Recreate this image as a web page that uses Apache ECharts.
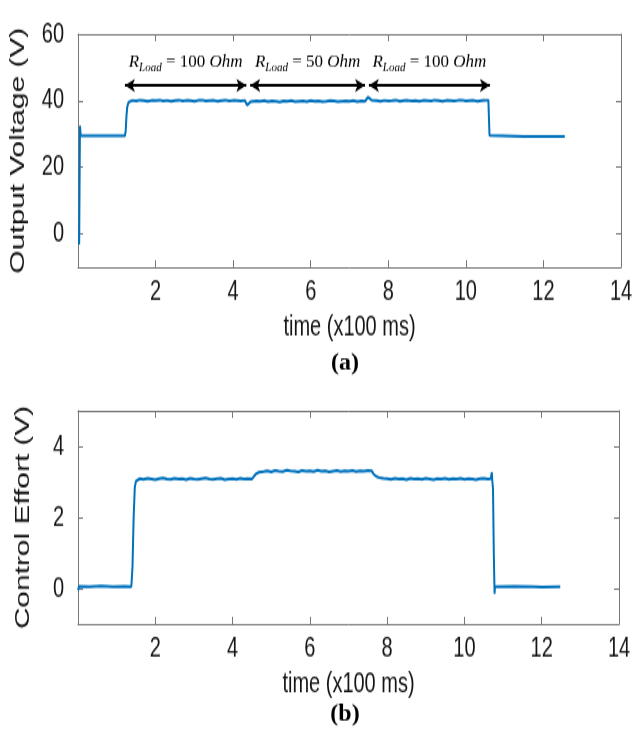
<!DOCTYPE html>
<html>
<head>
<meta charset="utf-8">
<script src="https://cdn.jsdelivr.net/npm/echarts@6/dist/echarts.min.js"></script>
<style>
  html, body { margin: 0; padding: 0; background: #fff; overflow: hidden; }
  #wrap { width: 632px; height: 732px; overflow: hidden; }
  /* the figure is laid out at a shorter height and stretched vertically */
  #chart { width: 632px; height: 515px; transform: scaleY(1.42136); transform-origin: 0 0; }
</style>
</head>
<body>
<div id="wrap"><div id="chart"></div></div>
<script>
// ---- (a) output voltage, time in units of 100 ms ----
const timeV = [
  0.03, 0.05, 0.07, 0.60, 1.21, 1.23, 1.25, 1.27, 1.30, 1.34,
  1.4, 1.5, 1.6, 1.7, 1.8, 1.9, 2.0, 2.1, 2.2, 2.3, 2.4, 2.5, 2.6, 2.7, 2.8,
  2.9, 3.0, 3.1, 3.2, 3.3, 3.4, 3.5, 3.6, 3.7, 3.8, 3.9, 4.0, 4.1, 4.2, 4.3,
  4.36, 4.40, 4.45,
  4.5, 4.6, 4.7, 4.8, 4.9, 5.0, 5.1, 5.2, 5.3, 5.4, 5.5, 5.6, 5.7, 5.8, 5.9,
  6.0, 6.1, 6.2, 6.3, 6.4, 6.5, 6.6, 6.7, 6.8, 6.9, 7.0, 7.1, 7.2, 7.3, 7.4,
  7.44, 7.48, 7.53, 7.58,
  7.7, 7.8, 7.9, 8.0, 8.1, 8.2, 8.3, 8.4, 8.5, 8.6, 8.7, 8.8, 8.9, 9.0, 9.1,
  9.2, 9.3, 9.4, 9.5, 9.6, 9.7, 9.8, 9.9, 10.0, 10.1, 10.2, 10.3, 10.4, 10.5,
  10.58, 10.60, 10.61, 10.63, 11.5, 12.55
];
const voltV = [
  -3.2, 32.5, 29.5, 29.5, 29.5, 31.0, 35.5, 38.2, 39.5, 40.1,
  40.1, 39.9, 40.2, 40.0, 39.8, 40.1, 40.0, 40.2, 39.9, 40.1, 39.8, 40.0, 40.2, 39.9, 40.1,
  40.0, 39.8, 40.1, 40.2, 39.9, 40.0, 40.1, 39.8, 40.0, 40.2, 39.9, 40.1, 40.0, 39.9, 40.1,
  38.7, 39.4, 39.7,
  39.7, 39.9, 39.8, 40.0, 39.7, 39.9, 39.8, 39.6, 39.9, 39.8, 40.0, 39.7, 39.8, 39.9, 39.7,
  40.0, 39.8, 39.9, 39.7, 39.8, 40.0, 39.9, 39.7, 39.8, 39.9, 39.8, 40.0, 39.7, 39.9, 39.8,
  40.0, 41.1, 40.4, 40.1,
  40.0, 39.8, 40.1, 39.9, 40.0, 40.2, 39.8, 40.0, 40.1, 39.9, 40.0, 39.8, 40.1, 40.0, 39.9,
  40.2, 40.0, 39.8, 40.1, 40.0, 39.9, 40.1, 40.2, 39.9, 40.0, 40.1, 39.8, 40.0, 40.1,
  40.2, 40.3, 29.6, 29.3, 29.3, 29.3
];

// ---- (b) control effort ----
const timeE = [
  0.00, 0.03, 0.30, 0.60, 0.90, 1.20, 1.38, 1.41, 1.44, 1.47, 1.50, 1.55,
  1.6, 1.7, 1.8, 1.9, 2.0, 2.1, 2.2, 2.3, 2.4, 2.5, 2.6, 2.7, 2.8, 2.9, 3.0,
  3.1, 3.2, 3.3, 3.4, 3.5, 3.6, 3.7, 3.8, 3.9, 4.0, 4.1, 4.2, 4.3, 4.4, 4.5,
  4.55, 4.60, 4.68,
  4.8, 4.9, 5.0, 5.1, 5.2, 5.3, 5.4, 5.5, 5.6, 5.7, 5.8, 5.9, 6.0, 6.1, 6.2,
  6.3, 6.4, 6.5, 6.6, 6.7, 6.8, 6.9, 7.0, 7.1, 7.2, 7.3, 7.4, 7.5, 7.6,
  7.65, 7.72, 7.80, 7.90,
  8.0, 8.1, 8.2, 8.3, 8.4, 8.5, 8.6, 8.7, 8.8, 8.9, 9.0, 9.1, 9.2, 9.3,
  9.4, 9.5, 9.6, 9.7, 9.8, 9.9, 10.0, 10.1, 10.2, 10.3, 10.4, 10.5, 10.6,
  10.68, 10.71, 10.72, 10.74, 10.76, 10.78, 10.79, 11.3, 11.8, 12.0, 12.48
];
const effortE = [
  -0.05, 0.06, 0.05, 0.07, 0.05, 0.06, 0.05, 0.6, 2.0, 2.85, 3.02, 3.08,
  3.09, 3.07, 3.10, 3.08, 3.06, 3.09, 3.11, 3.08, 3.07, 3.10, 3.08, 3.09, 3.06, 3.10, 3.08,
  3.07, 3.09, 3.11, 3.08, 3.07, 3.09, 3.10, 3.06, 3.08, 3.09, 3.07, 3.10, 3.08, 3.09, 3.08,
  3.12, 3.22, 3.27,
  3.29, 3.31, 3.28, 3.32, 3.30, 3.29, 3.33, 3.31, 3.30, 3.28, 3.32, 3.30, 3.31, 3.29, 3.33,
  3.30, 3.31, 3.28, 3.30, 3.32, 3.29, 3.31, 3.30, 3.32, 3.29, 3.31, 3.30, 3.32, 3.31,
  3.22, 3.15, 3.12, 3.10,
  3.09, 3.07, 3.10, 3.08, 3.09, 3.06, 3.10, 3.08, 3.09, 3.07, 3.10, 3.08, 3.06, 3.09,
  3.08, 3.10, 3.07, 3.09, 3.08, 3.10, 3.07, 3.09, 3.08, 3.06, 3.09, 3.10, 3.08,
  3.09, 3.27, 3.05, 2.8, 1.0, -0.15, 0.05, 0.06, 0.05, 0.04, 0.05
];

// ---- load annotations (double arrows over the voltage trace) ----
const arrowStart = [1.21, 4.44, 7.50];
const arrowEnd   = [4.34, 7.40, 10.62];
const arrowLevel = 44.6;
const loadOhms   = ['100', '50', '100'];

// ---- tick labels ----
const xTickLabels = [2, 4, 6, 8, 10, 12, 14];
const voltTicks   = [0, 20, 40, 60];
const effortTicks = [0, 2, 4];

const STRETCH = 732 / 515;
const BLUE = '#0072BD';
const AXIS_GREY = '#777777';
const INK = '#151515';
const SANS = '"Liberation Sans", Arial, sans-serif';
const SERIF = '"Liberation Serif", "Times New Roman", serif';

function xAxesFor(grid) {
  const base = {
    type: 'value', gridIndex: grid, min: 0, max: 14, interval: 2,
    splitLine: { show: false },
    axisLine: { show: true, onZero: false, lineStyle: { color: AXIS_GREY, width: 1 } },
    axisTick: { show: true, inside: true, length: 5, lineStyle: { color: AXIS_GREY, width: 1 } }
  };
  return [
    Object.assign({}, base, {
      position: 'bottom',
      axisLabel: { customValues: xTickLabels, color: INK, fontSize: 20, fontFamily: SANS, margin: 7 },
      name: 'time (x100 ms)', nameLocation: 'middle', nameGap: 32,
      nameTextStyle: { color: INK, fontSize: 20, fontFamily: SANS }
    }),
    Object.assign({}, base, { position: 'top', axisLabel: { show: false } })
  ];
}

function yAxesFor(grid, min, max, interval, ticks, name, nameGap) {
  const base = {
    type: 'value', gridIndex: grid, min: min, max: max, interval: interval,
    splitLine: { show: false },
    axisLine: { show: true, onZero: false, lineStyle: { color: AXIS_GREY, width: 1 } },
    axisTick: { show: true, inside: true, length: 5, customValues: ticks, lineStyle: { color: AXIS_GREY, width: 1 } }
  };
  return [
    Object.assign({}, base, {
      position: 'left',
      axisLabel: { customValues: ticks, color: INK, fontSize: 20, fontFamily: SANS, margin: 14 },
      name: name, nameLocation: 'middle', nameGap: nameGap,
      nameTextStyle: { color: INK, fontSize: 21, fontFamily: SANS }
    }),
    Object.assign({}, base, { position: 'right', axisLabel: { show: false } })
  ];
}

const chart = echarts.init(document.getElementById('chart'));

chart.setOption({
  animation: false,
  backgroundColor: '#fff',
  grid: [
    { left: 78, right: 11, top: 24, height: 164, outerBoundsMode: 'none' },
    { left: 78, right: 13, top: 289, height: 150, outerBoundsMode: 'none' }
  ],
  xAxis: xAxesFor(0).concat(xAxesFor(1)),
  yAxis: yAxesFor(0, -10, 60, 10, voltTicks, 'Output Voltage (V)', 49)
    .concat(yAxesFor(1, -1, 5, 1, effortTicks, 'Control Effort (V)', 44)),
  series: [
    {
      type: 'line', xAxisIndex: 0, yAxisIndex: 0,
      data: timeV.map((t, i) => [t, voltV[i]]),
      showSymbol: false, symbol: 'none',
      lineStyle: { color: BLUE, width: 2 },
      emphasis: { disabled: true },
      markLine: {
        silent: true,
        symbol: ['arrow', 'arrow'],
        symbolSize: [7, 10],
        lineStyle: { color: '#000', width: 2, type: 'solid' },
        label: { show: false },
        emphasis: { disabled: true },
        data: arrowStart.map((s, i) => [
          { coord: [s, arrowLevel] },
          { coord: [arrowEnd[i], arrowLevel] }
        ])
      }
    },
    {
      type: 'line', xAxisIndex: 2, yAxisIndex: 2,
      data: timeE.map((t, i) => [t, effortE[i]]),
      showSymbol: false, symbol: 'none',
      lineStyle: { color: BLUE, width: 2 },
      emphasis: { disabled: true }
    }
  ]
});

// Annotation text is drawn un-stretched: counter-scale vertically.
const rich = {
  i: { fontFamily: SERIF, fontStyle: 'italic', fontSize: 17, lineHeight: 22, color: '#111' },
  n: { fontFamily: SERIF, fontSize: 17, lineHeight: 22, color: '#111' },
  s: { fontFamily: SERIF, fontStyle: 'italic', fontSize: 11, lineHeight: 11, verticalAlign: 'bottom', color: '#111' }
};
const loadLabels = arrowStart.map((s, i) => {
  const p = chart.convertToPixel({ gridIndex: 0 }, [(s + arrowEnd[i]) / 2, arrowLevel]);
  return {
    type: 'text', x: p[0], y: p[1] - 16, scaleY: 1 / STRETCH, silent: true, z: 100,
    style: {
      text: '{i|R}{s|Load}{n| = ' + loadOhms[i] + ' }{i|Ohm}',
      rich: rich, align: 'center', verticalAlign: 'middle'
    }
  };
});
const panelTag = (txt, y) => ({
  type: 'text', x: 345, y: y / STRETCH, scaleY: 1 / STRETCH, silent: true, z: 100,
  style: {
    text: txt, fontFamily: SERIF, fontWeight: 'bold', fontSize: 24, fill: '#000',
    align: 'center', verticalAlign: 'middle'
  }
});

chart.setOption({
  graphic: loadLabels.concat([panelTag('(a)', 364), panelTag('(b)', 715)])
});
</script>
</body>
</html>
